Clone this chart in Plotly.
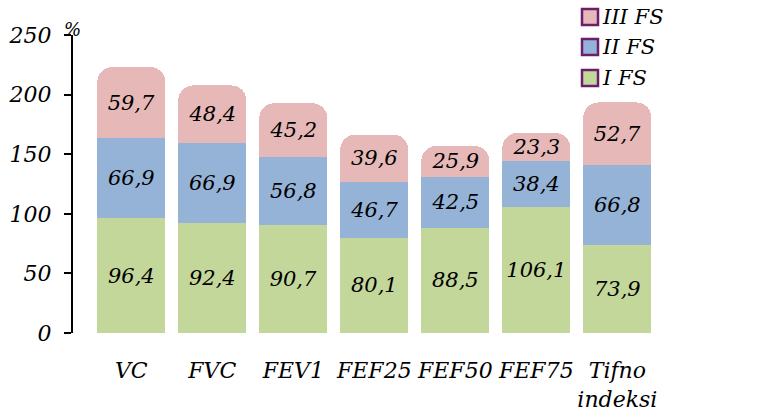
import plotly.graph_objects as go

categories = ["VC", "FVC", "FEV1", "FEF25", "FEF50", "FEF75", "Tifno<br>indeksi"]
fs1 = [96.4, 92.4, 90.7, 80.1, 88.5, 106.1, 73.9]
fs2 = [66.9, 66.9, 56.8, 46.7, 42.5, 38.4, 66.8]
fs3 = [59.7, 48.4, 45.2, 39.6, 25.9, 23.3, 52.7]
series_names = ["I FS", "II FS", "III FS"]
colors = ["#c4d79b", "#95b3d7", "#e6b9b8"]
y_ticks = [0, 50, 100, 150, 200, 250]

FONT = "DejaVu Serif"

def fmt(v):
    return f"{v:.1f}".replace(".", ",")

fig = go.Figure()
for vals, name, col in zip([fs1, fs2, fs3], series_names, colors):
    fig.add_trace(go.Bar(
        x=categories, y=vals, name=name, showlegend=False,
        marker=dict(color=col, line=dict(width=0)),
        text=[fmt(v) for v in vals], textposition="inside",
        insidetextanchor="middle", textangle=0, constraintext="none",
        textfont=dict(family=FONT, size=21, color="black", style="italic"),
        hoverinfo="skip",
    ))

# plot-area geometry in pixels (for legend placement in paper units)
W, H = 757, 411
ML, MR, MT, MB = 73, 87, 35, 78
PW, PH = W - ML - MR, H - MT - MB

def px_x(p):
    return (p - ML) / PW

def px_y(p):
    return (H - MB - p) / PH

shapes = []
annotations = []
legend_rows = [17, 47, 78]  # III, II, I from top
for row_y, name, col in zip(legend_rows, series_names[::-1], colors[::-1]):
    shapes.append(dict(
        type="rect", xref="paper", yref="paper",
        x0=px_x(582), x1=px_x(598), y0=px_y(row_y + 8), y1=px_y(row_y - 8),
        fillcolor=col, line=dict(color="#6b1f6b", width=2.5),
    ))
    annotations.append(dict(
        xref="paper", yref="paper", x=px_x(600), y=px_y(row_y),
        xanchor="left", yanchor="middle", text=name, showarrow=False,
        font=dict(family=FONT, size=21, color="black", style="italic"),
    ))
annotations.append(dict(
    xref="paper", yref="paper", x=px_x(72), y=px_y(30),
    xanchor="center", yanchor="middle", text="%", showarrow=False,
    font=dict(family=FONT, size=18, color="black", style="italic"),
))

fig.update_layout(
    width=W, height=H,
    margin=dict(l=ML, r=MR, t=MT, b=MB),
    barmode="stack", bargap=0.16, barcornerradius=15,
    uniformtext=dict(minsize=21, mode="show"),
    plot_bgcolor="white", paper_bgcolor="white",
    font=dict(family=FONT, size=22, color="black"),
    showlegend=False,
    xaxis=dict(
        range=[-0.72, 6.65], showline=False, ticks="", showgrid=False,
        automargin=False,
        tickfont=dict(family=FONT, size=22, color="black", style="italic"),
        ticklabelstandoff=22,
    ),
    yaxis=dict(
        range=[0, 250], tickvals=y_ticks, showline=True, linecolor="black",
        linewidth=2, ticks="outside", ticklen=7, tickwidth=1.5, tickcolor="black",
        showgrid=False, zeroline=False, ticklabelstandoff=8, automargin=False,
        tickfont=dict(family=FONT, size=22, color="black", style="italic"),
    ),
    shapes=shapes,
    annotations=annotations,
)

fig.write_html("out.html")
